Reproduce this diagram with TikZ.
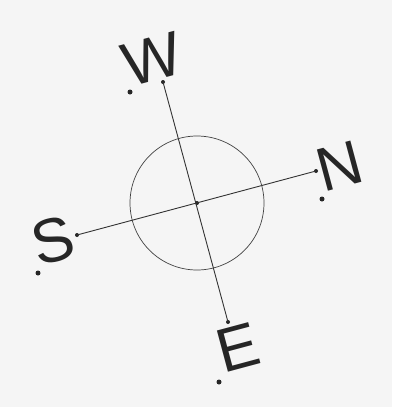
\documentclass[tikz,border=0pt]{standalone}
\usepackage{fontspec}
\setmainfont{Liberation Sans}
\begin{document}
\begin{tikzpicture}[x=1pt,y=-1pt,
  ink/.style={draw=black!80,line width=0.9pt},
  pt/.style={circle,fill=black!85,inner sep=0pt,minimum size=5pt},
  lab/.style={font=\fontsize{62}{62}\selectfont,text=black!85,inner sep=0pt,rotate=15}]
\fill[black!4] (0,0) rectangle (392,407);
\useasboundingbox (0,0) rectangle (392,407);
\coordinate (c) at (197,203);
\node[pt,minimum size=4pt] (cd) at (c) {};
\node[pt,minimum size=4pt] (wend) at (163,82) {};
\node[pt,minimum size=4pt] (eend) at (228,322) {};
\node[pt,minimum size=4pt] (send) at (77,235) {};
\node[pt,minimum size=4pt] (nend) at (316,171) {};
\draw[ink] (wend.center) -- (eend.center);
\draw[ink] (send.center) -- (nend.center);
\node[draw=black!75,line width=0.7pt,circle,minimum size=134pt,inner sep=0pt] (ring) at (c) {};
\node[lab] (W) at (152,59) {W};
\node[lab] (N) at (340,166) {N};
\node[lab] (S) at (53,241) {S};
\node[lab] (E) at (238,348) {E};
\node[pt] (wd) at (130,92) {};
\node[pt] (nd) at (322,199) {};
\node[pt] (sd) at (38,273) {};
\node[pt] (ed) at (219,382) {};
\end{tikzpicture}
\end{document}
